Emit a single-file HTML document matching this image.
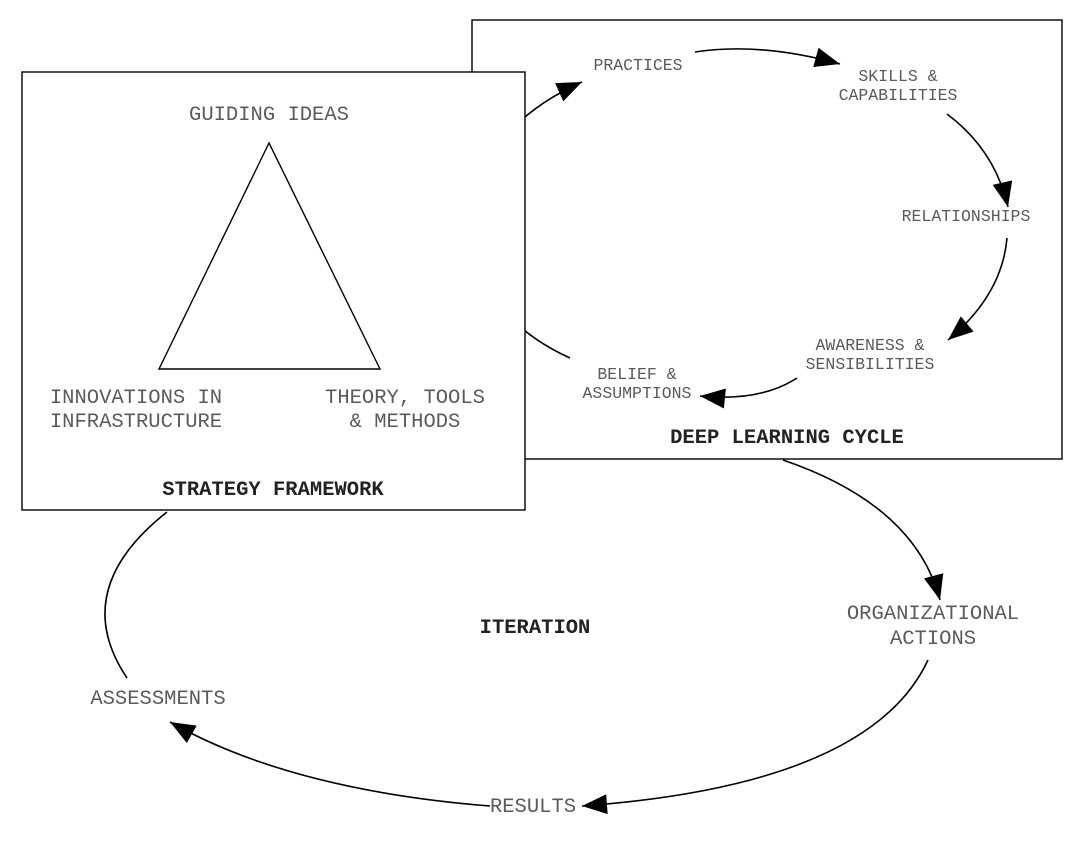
<!DOCTYPE html>
<html><head><meta charset="utf-8"><style>
html,body{margin:0;padding:0;background:#fff;width:1081px;height:845px;overflow:hidden}
text{font-family:"Liberation Mono","Courier New",monospace;fill:#5a5a5a}
.s{font-size:16.5px}.b{font-size:20.5px}.h{font-size:20.5px;font-weight:bold;fill:#222}
</style></head><body>
<svg width="1081" height="845" viewBox="0 0 1081 845" xmlns="http://www.w3.org/2000/svg">
<defs>
<marker id="A" viewBox="0 0 10 8" refX="10" refY="4" markerWidth="26" markerHeight="20" orient="auto" markerUnits="userSpaceOnUse"><path d="M0,0 L10,4 L0,8z" fill="#000"/></marker></defs>
<g fill="none" stroke="#000" stroke-width="1.6">
<rect x="472" y="20" width="590" height="439" fill="#fff" stroke-width="1.4"/>
<path d="M570,358 C440,300 430,150 582,82" marker-end="url(#A)"/>
<path d="M695,52 Q760,42 840,64" marker-end="url(#A)"/>
<path d="M947,114 Q995,150 1008,207" marker-end="url(#A)"/>
<path d="M1007,238 Q1002,295 948,340" marker-end="url(#A)"/>
<path d="M797,378 Q760,402 700,396" marker-end="url(#A)"/>
<path d="M783,460 Q915,505 940,600" marker-end="url(#A)"/>
<path d="M928,660 Q870,785 582,806" marker-end="url(#A)"/>
<path d="M490,806 Q290,790 170,722" marker-end="url(#A)"/>
<path d="M127,678 Q68,590 167,512"/>
<rect x="22" y="72" width="503" height="438" fill="#fff" stroke-width="1.4"/>
<path d="M269,143 L159,369 L380,369 Z" stroke-width="1.4"/>
</g>
<g text-anchor="middle">
<text class="b" x="269" y="120">GUIDING IDEAS</text>
<text class="b" x="136" y="403">INNOVATIONS IN</text>
<text class="b" x="136" y="427">INFRASTRUCTURE</text>
<text class="b" x="405" y="403">THEORY, TOOLS</text>
<text class="b" x="405" y="427">&amp; METHODS</text>
<text class="h" x="273" y="495">STRATEGY FRAMEWORK</text>
<text class="h" x="787" y="443">DEEP LEARNING CYCLE</text>
<text class="h" x="535" y="633">ITERATION</text>
<text class="b" x="933" y="619">ORGANIZATIONAL</text>
<text class="b" x="933" y="644">ACTIONS</text>
<text class="b" x="158" y="704">ASSESSMENTS</text>
<text class="b" x="533" y="812">RESULTS</text>
<text class="s" x="638" y="70">PRACTICES</text>
<text class="s" x="898" y="81">SKILLS &amp;</text>
<text class="s" x="898" y="100">CAPABILITIES</text>
<text class="s" x="966" y="221">RELATIONSHIPS</text>
<text class="s" x="870" y="350">AWARENESS &amp;</text>
<text class="s" x="870" y="369">SENSIBILITIES</text>
<text class="s" x="637" y="379">BELIEF &amp;</text>
<text class="s" x="637" y="398">ASSUMPTIONS</text>
</g>
</svg>
</body></html>
